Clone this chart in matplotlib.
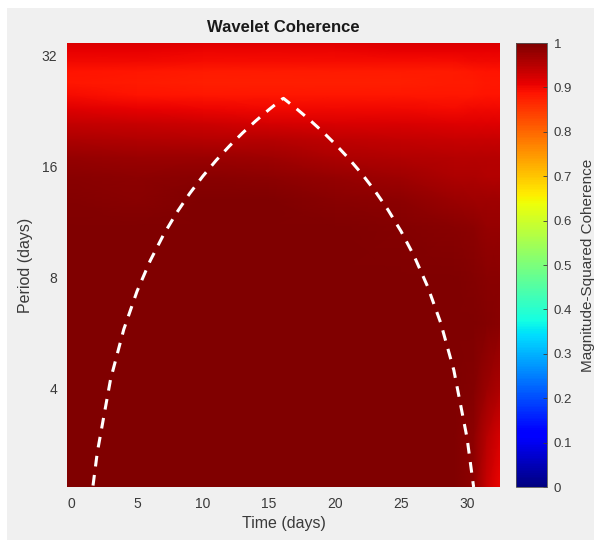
import numpy as np
import matplotlib.pyplot as plt
from matplotlib.patches import Rectangle
from matplotlib.ticker import FixedLocator, FixedFormatter

plt.rcParams['font.family'] = ['Liberation Sans', 'DejaVu Sans']

# coherence grid: columns are times (days), rows are periods (days)
times = [-0.3, 5, 10, 15, 20, 25, 29, 30.5, 31.5, 32.5]
periods = [2.17, 3, 4, 6, 8, 11, 13, 15, 17, 19, 21, 23, 25, 27, 29, 31, 33, 34.6]
coherence = [
    [1.000, 1.000, 1.000, 1.000, 1.000, 1.000, 1.000, 0.985, 0.935, 0.905],
    [1.000, 1.000, 1.000, 1.000, 1.000, 1.000, 1.000, 0.985, 0.950, 0.925],
    [1.000, 1.000, 1.000, 1.000, 1.000, 1.000, 1.000, 0.995, 0.975, 0.960],
    [1.000, 1.000, 1.000, 1.000, 1.000, 1.000, 1.000, 1.000, 0.995, 0.990],
    [1.000, 1.000, 1.000, 1.000, 1.000, 1.000, 1.000, 0.995, 0.990, 0.990],
    [1.000, 1.000, 1.000, 1.000, 1.000, 0.995, 0.990, 0.985, 0.980, 0.980],
    [0.995, 0.990, 1.000, 1.000, 0.990, 0.985, 0.975, 0.970, 0.970, 0.970],
    [0.990, 0.985, 0.990, 0.985, 0.980, 0.970, 0.960, 0.960, 0.955, 0.955],
    [0.980, 0.975, 0.975, 0.970, 0.960, 0.955, 0.950, 0.950, 0.950, 0.950],
    [0.960, 0.955, 0.950, 0.950, 0.945, 0.940, 0.935, 0.935, 0.935, 0.935],
    [0.940, 0.935, 0.930, 0.925, 0.920, 0.920, 0.915, 0.915, 0.915, 0.915],
    [0.915, 0.910, 0.905, 0.900, 0.900, 0.900, 0.895, 0.900, 0.900, 0.900],
    [0.895, 0.890, 0.885, 0.885, 0.885, 0.885, 0.885, 0.885, 0.890, 0.890],
    [0.885, 0.880, 0.878, 0.877, 0.877, 0.878, 0.880, 0.880, 0.885, 0.885],
    [0.890, 0.885, 0.880, 0.880, 0.880, 0.880, 0.880, 0.885, 0.890, 0.890],
    [0.900, 0.900, 0.895, 0.895, 0.895, 0.895, 0.895, 0.900, 0.900, 0.900],
    [0.910, 0.910, 0.905, 0.905, 0.905, 0.910, 0.910, 0.910, 0.910, 0.910],
    [0.920, 0.920, 0.915, 0.915, 0.915, 0.920, 0.920, 0.920, 0.920, 0.920],
]

# cone of influence, one sample per day
coi_time = [1.67, 2, 3, 4, 5, 6, 7, 8, 9, 10, 11, 12, 13, 14, 15, 16, 16.1,
            17, 18, 19, 20, 21, 22, 23, 24, 25, 26, 27, 28, 29, 30, 30.5]
coi_period = [2.19, 2.70, 4.25, 5.80, 7.35, 8.90, 10.45, 12.0, 13.55, 15.1,
              16.65, 18.2, 19.75, 21.3, 22.85, 24.4, 24.5,
              23.1, 21.55, 20.0, 18.45, 16.9, 15.35, 13.8, 12.25, 10.7,
              9.15, 7.6, 6.05, 4.5, 2.95, 2.17]

period_ticks = [4, 8, 16, 32]
time_ticks = [0, 5, 10, 15, 20, 25, 30]
cbar_ticks = [0, 0.1, 0.2, 0.3, 0.4, 0.5, 0.6, 0.7, 0.8, 0.9, 1]
cbar_labels = ['0', '0.1', '0.2', '0.3', '0.4', '0.5', '0.6', '0.7', '0.8', '0.9', '1']

text_color = '#3a3a3a'

fig = plt.figure(figsize=(5.94, 5.40), dpi=100)
fig.patch.set_facecolor('white')
fig.patches.append(Rectangle((7 / 594, 0), 1 - 7 / 594, 1 - 8 / 540,
                             transform=fig.transFigure, facecolor='#f0f0f0',
                             edgecolor='none', zorder=-10))

ax = fig.add_axes([0.1128, 0.0981, 0.729, 0.8222])
mesh = ax.pcolormesh(np.array(times), np.array(periods), np.array(coherence),
                     cmap='jet', vmin=0, vmax=1, shading='gouraud')
ax.plot(coi_time, coi_period, color='white', lw=2.2, dashes=(3.5, 2.8))

ax.set_yscale('log', base=2)
ax.set_xlim(-0.3, 32.5)
ax.set_ylim(2.17, 34.6)
ax.yaxis.set_major_locator(FixedLocator(period_ticks))
ax.yaxis.set_major_formatter(FixedFormatter([str(p) for p in period_ticks]))
ax.yaxis.set_minor_locator(FixedLocator([]))
ax.set_xticks(time_ticks)
ax.tick_params(length=0, labelsize=10, colors=text_color, pad=7)
for s in ax.spines.values():
    s.set_visible(False)

ax.set_title('Wavelet Coherence', fontsize=12, fontweight='bold',
             color='#1a1a1a', pad=8)
ax.set_xlabel('Time (days)', fontsize=11.5, color=text_color, labelpad=4)
ax.set_ylabel('Period (days)', fontsize=11.5, color=text_color, labelpad=6)

cax = fig.add_axes([0.8687, 0.0981, 0.0522, 0.8222])
cbar = fig.colorbar(mesh, cax=cax)
cbar.set_ticks(cbar_ticks)
cbar.set_ticklabels(cbar_labels)
cbar.outline.set_linewidth(0.6)
cbar.outline.set_edgecolor('#555555')
cax.tick_params(direction='in', length=3, width=0.6, labelsize=9.5,
                colors=text_color, pad=5)
cbar.set_label('Magnitude-Squared Coherence', fontsize=11, color=text_color,
               labelpad=6)

fig.savefig('out.png', dpi=100, facecolor=fig.get_facecolor())
